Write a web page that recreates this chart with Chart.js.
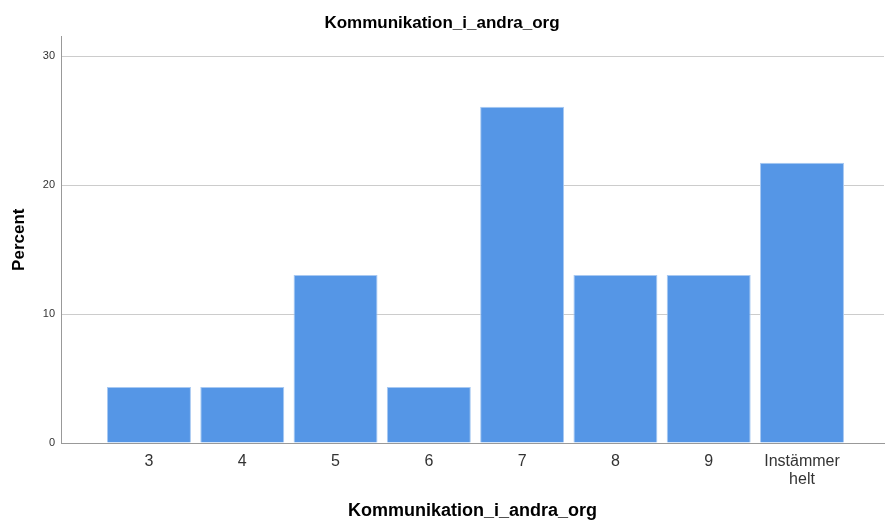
<!DOCTYPE html>
<html>
<head>
<meta charset="utf-8">
<script src="https://cdn.jsdelivr.net/npm/chart.js@4"></script>
<style>
  html, body { margin: 0; padding: 0; background: #fff; }
  #wrap { width: 885px; height: 522px; }
</style>
</head>
<body>
<div id="wrap"><canvas id="chart"></canvas></div>
<script>
const categories = ['3', '4', '5', '6', '7', '8', '9', ['Instämmer', 'helt']];
const percent = [4.35, 4.35, 13.04, 4.35, 26.09, 13.04, 13.04, 21.74];
const yTicks = [0, 10, 20, 30];

const font = 'Liberation Sans, Arial, sans-serif';

const ctx = document.getElementById('chart').getContext('2d');
new Chart(ctx, {
    type: 'bar',
    data: {
        datasets: [{
            data: percent.map((v, i) => ({ x: i, y: v })),
            backgroundColor: '#5596e6',
            borderColor: '#a8c9f2',
            borderWidth: 1,
            barPercentage: 0.9,
            categoryPercentage: 1.0
        }]
    },
    options: {
        responsive: true,
        maintainAspectRatio: false,
        animation: false,
        layout: { padding: { left: 0, right: 1, top: 0, bottom: 0 } },
        plugins: {
            legend: { display: false },
            tooltip: { enabled: false },
            title: {
                display: true,
                text: 'Kommunikation_i_andra_org',
                color: '#000',
                font: { family: font, size: 17, weight: 'bold' },
                padding: { top: 13, bottom: 3 }
            }
        },
        scales: {
            x: {
                type: 'linear',
                offset: false,
                min: -0.943,
                max: 7.879,
                afterBuildTicks: (scale) => {
                    scale.ticks = categories.map((c, i) => ({ value: i }));
                },
                afterFit: (scale) => { scale.height = 79; },
                grid: { display: false, drawTicks: false, offset: false },
                border: { display: true, color: '#999', width: 1 },
                ticks: {
                    autoSkip: false,
                    maxRotation: 0,
                    padding: 10,
                    color: '#333',
                    font: { family: font, size: 16, lineHeight: 1.1 },
                    callback: (value) => categories[value]
                },
                title: {
                    display: true,
                    text: 'Kommunikation_i_andra_org',
                    color: '#000',
                    font: { family: font, size: 18, weight: 'bold' },
                    padding: { top: 0, bottom: 0 }
                }
            },
            y: {
                min: 0,
                max: 31.55,
                afterBuildTicks: (scale) => {
                    scale.ticks = yTicks.map(v => ({ value: v }));
                },
                afterFit: (scale) => { scale.width = 61; },
                grid: { color: '#cccccc', lineWidth: 1, drawTicks: false },
                border: { display: true, color: '#999', width: 1 },
                ticks: {
                    padding: 6,
                    color: '#333',
                    font: { family: font, size: 11 }
                },
                title: {
                    display: true,
                    text: 'Percent',
                    color: '#000',
                    font: { family: font, size: 17, weight: 'bold' },
                    padding: { top: 9, bottom: 0 }
                }
            }
        }
    }
});
</script>
</body>
</html>
